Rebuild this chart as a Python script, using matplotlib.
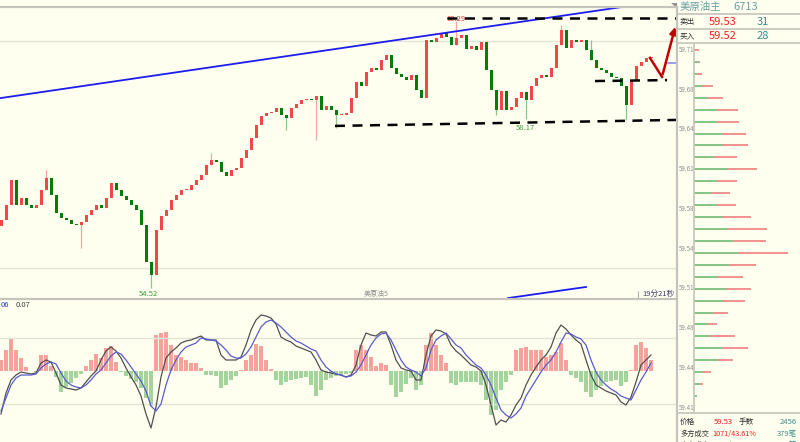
import numpy as np
import matplotlib
matplotlib.use('Agg')
import matplotlib.pyplot as plt

plt.rcParams['font.family'] = ['Noto Sans CJK SC', 'DejaVu Sans']

# candle closes, one every bar (open = previous close)
closes = [55.99, 56.31, 56.85, 56.31, 56.46, 56.31, 56.25, 56.31, 56.64, 56.90,
          56.53, 56.14, 56.03, 55.99, 55.90, 55.88, 55.95, 56.10, 56.21, 56.31,
          56.25, 56.46, 56.79, 56.64, 56.51, 56.42, 56.31, 56.21, 55.88, 55.08,
          54.80, 55.77, 56.08, 56.21, 56.42, 56.53, 56.64, 56.64, 56.75, 56.85,
          56.96, 57.18, 57.29, 57.24, 57.03, 56.94, 57.07, 57.11, 57.33, 57.50,
          57.76, 58.04, 58.24, 58.30, 58.32, 58.41, 58.26, 58.19, 58.41, 58.49,
          58.58, 58.60, 58.58, 58.67, 58.37, 58.45, 58.37, 58.26, 58.26, 58.30,
          58.62, 58.97, 58.88, 59.19, 59.27, 59.23, 59.45, 59.55, 59.27, 59.14,
          59.08, 59.01, 59.12, 58.80, 58.62, 59.88, 59.83, 59.92, 60.03, 59.94,
          59.77, 59.92, 59.99, 59.68, 59.75, 59.66, 59.83, 59.23, 58.80, 58.37,
          58.78, 58.37, 58.43, 58.62, 58.75, 58.58, 58.88, 59.06, 59.12, 59.08,
          59.27, 59.77, 60.09, 59.70, 59.88, 59.83, 59.88, 59.66, 59.45, 59.27,
          59.23, 59.16, 59.08, 59.06, 58.88, 58.47, 59.01, 59.32, 59.40, 59.49,
          59.49]
first_open = 55.85

# long wicks
wick_idx = [9, 16, 30, 42, 57, 63, 67, 91, 99, 105, 112, 118, 125]
wick_end = [57.07, 55.38, 54.52, 57.44, 57.93, 57.72, 57.98, 60.29, 58.25, 58.17, 60.20, 59.88, 58.15]

# MACD
hist = [0.011, 0.021, 0.033, 0.021, 0.013, 0.004, 0.000, -0.001, 0.016, 0.016,
        0.005, -0.006, -0.021, -0.016, -0.012, -0.007, -0.003, 0.005, 0.011, 0.017,
        0.013, 0.023, 0.025, 0.009, -0.001, -0.005, -0.008, -0.011, -0.017, -0.027,
        -0.035, 0.036, 0.038, 0.039, 0.026, 0.016, 0.014, 0.011, 0.008, 0.008,
        0.003, -0.004, -0.004, -0.005, -0.017, -0.014, -0.009, -0.005, 0.001, 0.011,
        0.016, 0.027, 0.025, 0.011, 0.002, -0.009, -0.014, -0.011, -0.009, -0.008,
        -0.007, -0.006, -0.014, -0.025, -0.019, -0.009, -0.007, -0.005, -0.004, -0.003,
        -0.002, 0.021, 0.026, 0.021, 0.014, 0.005, 0.008, 0.006, -0.014, -0.026,
        -0.021, -0.013, -0.007, -0.019, -0.014, 0.026, 0.038, 0.026, 0.016, 0.008,
        -0.012, -0.014, -0.011, -0.011, -0.011, -0.011, -0.014, -0.029, -0.044, -0.039,
        -0.019, -0.011, -0.004, 0.021, 0.023, 0.024, 0.021, 0.021, 0.021, 0.014,
        0.016, 0.019, 0.028, 0.011, -0.004, -0.007, -0.011, -0.021, -0.026, -0.019,
        -0.015, -0.011, -0.010, -0.009, -0.015, -0.011, 0.001, 0.026, 0.029, 0.023,
        0.011]
dif = [-0.043, -0.022, -0.009, -0.004, -0.001, -0.002, -0.003, -0.002, 0.008, 0.011,
       0.009, -0.002, -0.014, -0.017, -0.018, -0.019, -0.017, -0.011, -0.005, 0.000,
       0.011, 0.020, 0.024, 0.020, 0.013, 0.003, -0.006, -0.014, -0.025, -0.043,
       -0.057, -0.036, -0.006, 0.013, 0.019, 0.023, 0.028, 0.030, 0.031, 0.033,
       0.035, 0.031, 0.031, 0.031, 0.016, 0.011, 0.011, 0.011, 0.014, 0.026,
       0.041, 0.051, 0.056, 0.055, 0.053, 0.047, 0.034, 0.031, 0.029, 0.025,
       0.023, 0.021, 0.019, 0.011, 0.001, -0.001, -0.002, -0.003, -0.004, -0.006,
       -0.004, 0.006, 0.026, 0.038, 0.036, 0.035, 0.039, 0.039, 0.026, 0.011,
       0.003, 0.001, 0.000, -0.009, -0.009, 0.016, 0.035, 0.041, 0.040, 0.037,
       0.026, 0.020, 0.016, 0.011, 0.006, 0.004, 0.000, -0.014, -0.034, -0.054,
       -0.049, -0.051, -0.044, -0.034, -0.027, -0.014, -0.004, 0.004, 0.011, 0.016,
       0.024, 0.038, 0.046, 0.042, 0.036, 0.031, 0.027, 0.011, -0.004, -0.014,
       -0.017, -0.020, -0.022, -0.024, -0.031, -0.034, -0.026, -0.011, 0.006, 0.011,
       0.016]
dea = [-0.040, -0.027, -0.014, -0.007, -0.004, -0.004, -0.004, -0.003, 0.003, 0.007,
       0.009, 0.007, -0.002, -0.010, -0.014, -0.016, -0.017, -0.014, -0.009, -0.003,
       0.001, 0.008, 0.015, 0.019, 0.017, 0.011, 0.004, -0.003, -0.010, -0.020,
       -0.035, -0.040, -0.033, -0.014, 0.001, 0.011, 0.019, 0.024, 0.026, 0.028,
       0.033, 0.032, 0.031, 0.030, 0.026, 0.021, 0.015, 0.013, 0.013, 0.017,
       0.024, 0.034, 0.044, 0.049, 0.051, 0.048, 0.044, 0.039, 0.034, 0.030,
       0.028, 0.025, 0.022, 0.020, 0.011, 0.004, 0.000, -0.003, -0.004, -0.006,
       -0.005, -0.001, 0.006, 0.016, 0.026, 0.033, 0.037, 0.038, 0.031, 0.021,
       0.011, 0.004, 0.001, -0.001, -0.005, 0.003, 0.021, 0.031, 0.035, 0.038,
       0.032, 0.026, 0.023, 0.016, 0.011, 0.006, 0.003, -0.004, -0.014, -0.027,
       -0.039, -0.044, -0.047, -0.043, -0.037, -0.025, -0.017, -0.009, -0.001, 0.006,
       0.011, 0.019, 0.029, 0.038, 0.037, 0.034, 0.032, 0.026, 0.011, -0.001,
       -0.009, -0.014, -0.018, -0.021, -0.025, -0.027, -0.029, -0.019, -0.009, -0.001,
       0.008]

# drawn lines (bar index, price)
trend_x, trend_y = [-0.2, 124.2], [58.62, 60.59]
trend2_x, trend2_y = [101.4, 117.0], [54.30, 54.54]
top_x, top_y = [89.2, 135.2], [60.35, 60.35]
low_x, low_y = [66.8, 135.2], [58.02, 58.15]
mid_x, mid_y = [118.8, 133.2], [58.99, 59.01]
arrow_x, arrow_y = [129.8, 132.2, 135.0], [59.49, 59.08, 60.22]

# order book (buy part / sell part)
book_buy = [0, 5, 3, 8, 13, 23, 23, 28, 28, 20, 34, 23, 17, 23, 28,
            34, 39, 44, 35, 24, 32, 29, 19, 14, 16, 28, 24, 9, 6, 3]
book_sell = [5, 1, 5, 11, 16, 21, 22, 24, 26, 23, 29, 20, 19, 19, 29,
             39, 33, 50, 27, 25, 25, 22, 15, 9, 25, 26, 15, 8, 3, 0]
book_top = 59.71
book_labels = ['59.71', '59.68', '59.64', '59.61', '59.58', '59.54', '59.51', '59.48', '59.44', '59.41']

bg = '#fffff0'
W, H = 800, 442


def rect(x0, y0, x1, y1):
    return [x0 / W, 1 - y1 / H, (x1 - x0) / W, (y1 - y0) / H]


fig = plt.figure(figsize=(8, 4.42), dpi=100, facecolor=bg)

# price panel
ax = fig.add_axes(rect(0, 7, 677, 299), facecolor=bg)
ax.set_xlim(-0.2, 135.2)
ax.set_ylim(54.28, 60.59)
for s in ax.spines.values():
    s.set_visible(False)
ax.set_xticks([])
ax.set_yticks([])
ax.axhline(59.86, color='#e4e4d6', lw=1)
ax.axhline(54.95, color='#e4e4d6', lw=1)

n = len(closes)
idx = np.arange(n)
c = np.array(closes)
o = np.array([first_open] + closes[:-1])
up = c >= o
for i in range(n):
    col = '#f04848' if up[i] else '#0a7a0a'
    wcol = '#f4a4a4' if up[i] else '#8cc48c'
    if i in wick_idx:
        w = wick_end[wick_idx.index(i)]
        ax.vlines(i, min(o[i], c[i], w), max(o[i], c[i], w), color=wcol, lw=0.9, zorder=2)
    lo, hi = min(o[i], c[i]), max(o[i], c[i])
    if hi - lo < 0.02:
        hi = lo + 0.02
    ax.bar(i, hi - lo, bottom=lo, width=0.6, color=col, lw=0, zorder=3)

ax.plot(trend_x, trend_y, color='#1c1cf0', lw=1.3, zorder=4)
ax.plot(trend2_x, trend2_y, color='#1c1cf0', lw=1.3, zorder=4)
for xs, ys in [(top_x, top_y), (low_x, low_y), (mid_x, mid_y)]:
    ax.plot(xs, ys, color='black', lw=1.8, dashes=(4, 3), zorder=5)
ax.plot(arrow_x[:2], arrow_y[:2], color='#c00000', lw=1.8, zorder=6)
ax.annotate('', xy=(arrow_x[2], arrow_y[2]), xytext=(arrow_x[1], arrow_y[1]),
            arrowprops=dict(arrowstyle='-|>', color='#c00000', lw=1.8, mutation_scale=10), zorder=6)
ax.plot([133.4, 135.2], [59.38, 59.38], color='#8c8cec', lw=1.2)

ax.text(91, 60.32, '60.29', color='#e03030', fontsize=5.5, ha='center', va='center')
ax.text(104.8, 57.98, '58.17', color='#3a9a3a', fontsize=5.5, ha='center', va='center')
ax.text(29.4, 54.39, '54.52', color='#3a9a3a', fontsize=5.5, ha='center', va='center')
ax.text(75, 54.39, '美原油5', color='#909090', fontsize=5, ha='center', va='center')
ax.text(134.8, 54.40, '19分21秒', color='#404070', fontsize=5.5, ha='right', va='center')
ax.vlines(127.4, 54.30, 54.45, color='#b0b0b0', lw=0.8)

# MACD panel
axm = fig.add_axes(rect(0, 299, 677, 442), facecolor=bg)
axm.set_xlim(-0.2, 135.2)
axm.set_ylim(-0.071, 0.072)
for s in axm.spines.values():
    s.set_visible(False)
axm.set_xticks([])
axm.set_yticks([])
axm.axhline(0.033, color='#e4e4d6', lw=1)
axm.axhline(-0.033, color='#e4e4d6', lw=1)
hcol = ['#f5a29c' if v >= 0 else '#a2d49c' for v in hist]
axm.bar(idx, hist, width=0.62, color=hcol, lw=0)
axm.plot(idx, dif, color='#505050', lw=0.9)
axm.plot(idx, dea, color='#5a5ad0', lw=0.9)
axm.text(0.0, 0.066, '06', color='#3040c0', fontsize=5.5, ha='left', va='center')
axm.text(3.0, 0.066, '0.07', color='#404040', fontsize=5.5, ha='left', va='center')

# order book
axb = fig.add_axes(rect(677, 44, 800, 414), facecolor=bg)
axb.set_xlim(-17, 106)
axb.set_ylim(59.405, 59.715)
for s in axb.spines.values():
    s.set_visible(False)
axb.set_xticks([])
axb.set_yticks([])
rows = book_top - 0.01 * np.arange(len(book_buy))
buy = np.array(book_buy)
sell = np.array(book_sell)
axb.hlines(rows, 0, buy, color='#84c484', lw=1.4)
axb.hlines(rows, buy, buy + sell, color='#f29090', lw=1.4)
for k, lab in enumerate(book_labels):
    axb.text(-15.5, book_top - k * 0.0333, lab, color='#909090', fontsize=4.5, ha='left', va='center')

# frame lines and header texts in pixel space
ov = fig.add_axes([0, 0, 1, 1], facecolor='none')
ov.set_xlim(0, W)
ov.set_ylim(H, 0)
ov.axis('off')
lc = '#c4c4bc'
ov.plot([0, 677], [7, 7], color=lc, lw=1.6)
ov.plot([0, 677], [299, 299], color=lc, lw=1.6)
ov.plot([677, 677], [7, 442], color=lc, lw=1.6)
ov.plot([694, 694], [44, 413], color=lc, lw=1.2)
for yy in [14, 29, 43, 413]:
    ov.plot([677, 800], [yy, yy], color=lc, lw=1.2)
ov.fill([671, 677, 677], [3, 3, 8], color='#909090', lw=0)

ov.text(680, 7, '美原油主', color='#6a9e9e', fontsize=7.5, ha='left', va='center')
ov.text(733, 7, '6713', color='#6a9e9e', fontsize=8, ha='left', va='center')
ov.text(680, 22, '卖出', color='#303030', fontsize=5.5, ha='left', va='center')
ov.text(709, 22, '59.53', color='#f02020', fontsize=8, ha='left', va='center')
ov.text(757, 22, '31', color='#3a8a8a', fontsize=8, ha='left', va='center')
ov.text(680, 36, '买入', color='#303030', fontsize=5.5, ha='left', va='center')
ov.text(709, 36, '59.52', color='#f02020', fontsize=8, ha='left', va='center')
ov.text(757, 36, '28', color='#3a8a8a', fontsize=8, ha='left', va='center')

ov.text(680, 422, '价格', color='#303030', fontsize=5.5, ha='left', va='center')
ov.text(714, 422, '59.53', color='#f02020', fontsize=5.5, ha='left', va='center')
ov.text(739, 422, '手数', color='#303030', fontsize=5.5, ha='left', va='center')
ov.text(797, 422, '2456', color='#3a8a8a', fontsize=5.5, ha='right', va='center')
ov.text(680, 434, '多方成交', color='#303030', fontsize=5.2, ha='left', va='center')
ov.text(712, 434, '1071/43.61%', color='#f02020', fontsize=5.2, ha='left', va='center')
ov.text(797, 434, '379笔', color='#3a8a8a', fontsize=5.5, ha='right', va='center')
ov.text(680, 445, '空方成交', color='#303030', fontsize=5.2, ha='left', va='center')
ov.text(712, 445, '1385/56.39%', color='#3a9a3a', fontsize=5.2, ha='left', va='center')
ov.text(797, 445, '523笔', color='#3a8a8a', fontsize=5.5, ha='right', va='center')

fig.savefig('out.png', dpi=100, facecolor=bg)
plt.close()
